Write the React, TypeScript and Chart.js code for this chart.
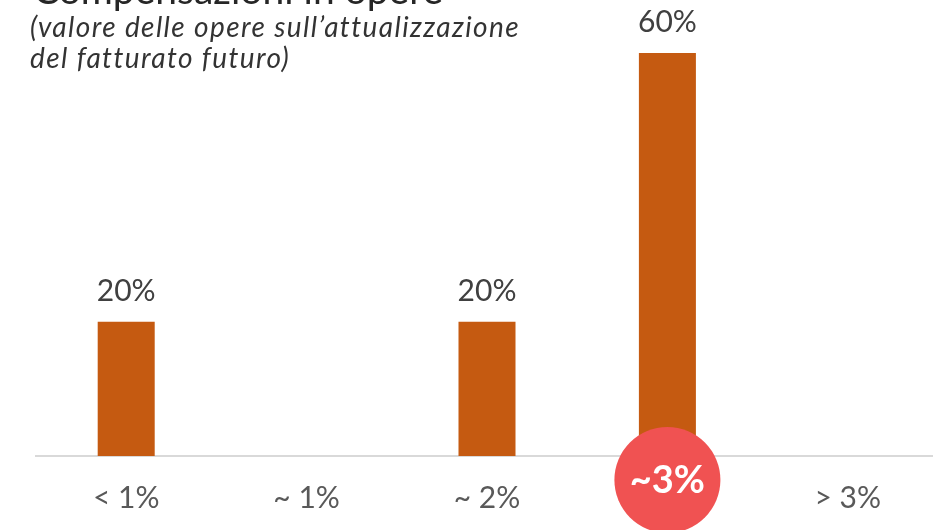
import React, { useEffect, useRef } from "react";
import { Chart, registerables } from "chart.js";

Chart.register(...registerables);

const categories = ["< 1%", "~ 1%", "~ 2%", "~3%", "> 3%"];
const values = [20, 0, 20, 60, 0];
const highlightIndex = 3;
const titleText = "Compensazioni in opere";
const subtitleLines = ["(valore delle opere sull’attualizzazione", "del fatturato futuro)"];

const FONT = "Lato, 'Open Sans', sans-serif";

const overlayPlugin = {
  id: "overlay",
  afterDatasetsDraw(chart: any) {
    const ctx = chart.ctx;
    const meta = chart.getDatasetMeta(0);
    ctx.save();
    ctx.fillStyle = "#404040";
    ctx.font = `30px ${FONT}`;
    ctx.textAlign = "center";
    ctx.textBaseline = "alphabetic";
    meta.data.forEach((bar: any, i: number) => {
      const v = values[i];
      if (!v) return;
      ctx.fillText(`${v}%`, bar.x, bar.y - 21);
    });
    ctx.restore();
  },
  afterDraw(chart: any) {
    const ctx = chart.ctx;
    const xScale = chart.scales.x;
    ctx.save();
    // title (partly cut off)
    ctx.fillStyle = "#262626";
    ctx.textAlign = "left";
    ctx.textBaseline = "alphabetic";
    ctx.font = `39px ${FONT}`;
    ctx.fillText(titleText, 33, 4);
    ctx.font = `italic 28px ${FONT}`;
    (ctx as any).letterSpacing = "1.4px";
    ctx.fillStyle = "#333333";
    ctx.fillText(subtitleLines[0], 30, 37);
    ctx.fillText(subtitleLines[1], 30, 68);
    (ctx as any).letterSpacing = "0px";
    // highlight circle
    const cx = xScale.getPixelForTick(highlightIndex);
    const cy = 480;
    ctx.beginPath();
    ctx.arc(cx, cy, 53, 0, Math.PI * 2);
    ctx.fillStyle = "#F05252";
    ctx.fill();
    ctx.fillStyle = "#ffffff";
    ctx.font = `bold 38px ${FONT}`;
    ctx.textAlign = "center";
    ctx.textBaseline = "middle";
    ctx.fillText(categories[highlightIndex], cx, cy + 1);
    ctx.restore();
  },
};

export default function App() {
  const ref = useRef<HTMLCanvasElement>(null);
  useEffect(() => {
    if (!ref.current) return;
    const chart = new Chart(ref.current, {
      type: "bar",
      data: {
        labels: categories,
        datasets: [
          {
            data: values,
            backgroundColor: "#C55A11",
            borderWidth: 0,
            barPercentage: 0.316,
            categoryPercentage: 1,
          },
        ],
      },
      options: {
        responsive: false,
        animation: false,
        layout: { padding: { left: 36, right: 2, top: 53, bottom: 20 } },
        plugins: {
          legend: { display: false },
          tooltip: { enabled: false },
          title: { display: false },
        },
        scales: {
          x: {
            grid: { display: false, drawTicks: false },
            border: { display: true, color: "#D9D9D9", width: 2 },
            afterFit: (s: any) => {
              s.height = 54;
            },
            ticks: {
              padding: 24,
              color: (c: any) => (c.index === highlightIndex ? "rgba(0,0,0,0)" : "#595959"),
              font: { family: FONT, size: 30 },
              maxRotation: 0,
              autoSkip: false,
            },
          },
          y: {
            display: false,
            min: 0,
            max: 60,
          },
        },
      },
      plugins: [overlayPlugin],
    });
    return () => chart.destroy();
  }, []);
  return (
    <div
      style={{
        position: "fixed",
        left: 0,
        top: 0,
        width: 933,
        height: 530,
        overflow: "hidden",
        background: "#fff",
      }}
    >
      <canvas ref={ref} width={940} height={530} style={{ display: "block", width: 940, height: 530 }} />
    </div>
  );
}
